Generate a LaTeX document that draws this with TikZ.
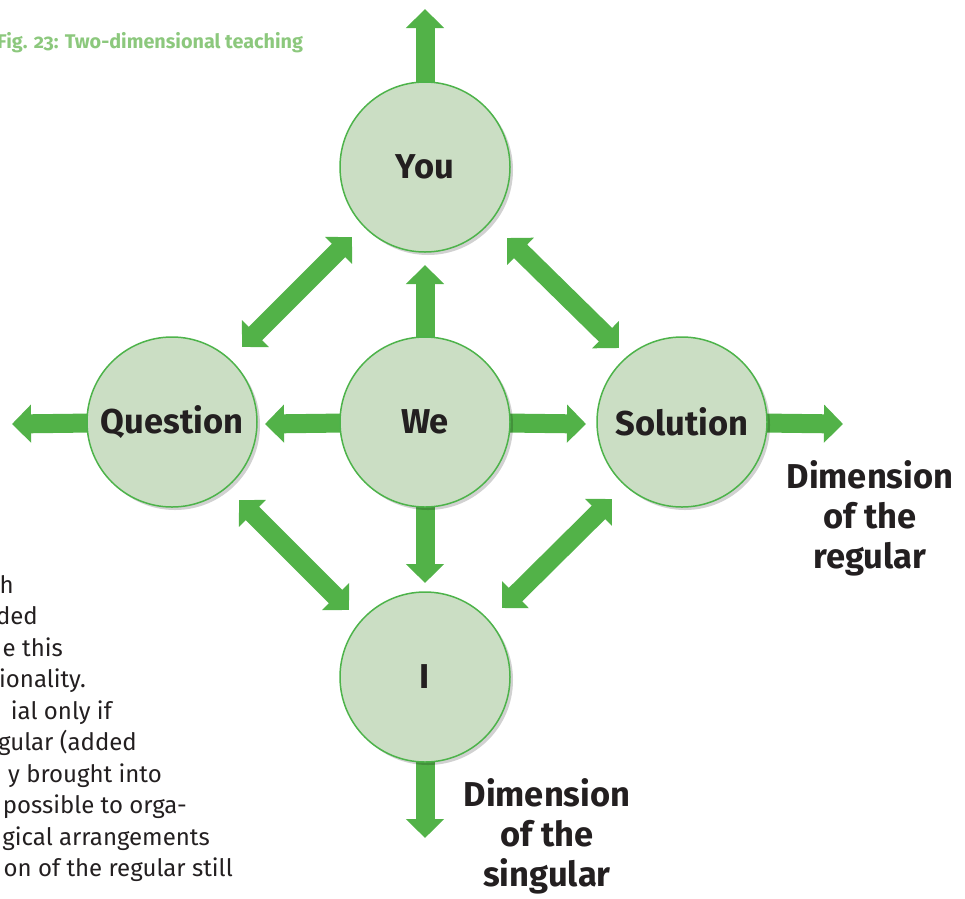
\documentclass[tikz,border=0pt]{standalone}
\usepackage{fontspec}
\setmainfont{Fira Sans}
\usetikzlibrary{arrows.meta,backgrounds,shadows}
\definecolor{cfill}{HTML}{CBDEC4}
\definecolor{cline}{HTML}{4DB34A}
\definecolor{agreen}{HTML}{52B248}
\definecolor{capgreen}{HTML}{8CC87D}
\definecolor{txt}{HTML}{231F20}
\begin{document}
\begin{tikzpicture}[x=1pt,y=-1pt,
  circ/.style={circle, minimum size=170pt, inner sep=0pt, outer sep=0pt,
    fill=cfill, draw=cline, line width=1.5pt, text=txt,
    font=\bfseries\fontsize{34.5}{40}\selectfont,
    drop shadow={shadow xshift=3pt, shadow yshift=-3pt, opacity=0.18, fill=black}},
  arr/.style={draw=agreen, line width=19pt, -{Triangle[width=37pt,length=19pt]}},
  darr/.style={draw=agreen, line width=19pt,
    {Triangle[width=37pt,length=19pt]}-{Triangle[width=37pt,length=19pt]}},
  dimlabel/.style={align=center, anchor=base, inner sep=0pt, text=txt,
    font=\bfseries\fontsize{34.5}{40}\selectfont},
  body/.style={anchor=base east, inner sep=0pt, text=txt,
    font=\fontsize{24}{31}\selectfont},
]
\useasboundingbox (0,0) rectangle (965,898);

% caption
\node[anchor=base west, inner sep=0pt, text=capgreen,
  font=\bfseries\fontsize{19.8}{24}\selectfont\addfontfeatures{Numbers=OldStyle}]
  (cap) at (-3,48) {Fig. 23: Two-dimensional teaching};

% circles
\node[circ] (you) at (425,167) {You};
\node[circ] (we) at (425,422) {We};
\node[circ] (q) at (172,422) {Question};
\node[circ] (sol) at (682,422) {Solution};
\node[circ] (i) at (425,677) {I};

% arrow tips
\coordinate (youT) at (425,9);
\coordinate (weU) at (425,265);
\coordinate (weD) at (425,583);
\coordinate (weL) at (265,424);
\coordinate (weR) at (586,424);
\coordinate (qL) at (12,424);
\coordinate (solR) at (843,424);
\coordinate (iD) at (425,838);
\coordinate (qy1) at (242,347);
\coordinate (qy2) at (352,237);
\coordinate (ys1) at (507,238);
\coordinate (ys2) at (619,348);
\coordinate (qi1) at (239,500);
\coordinate (qi2) at (349,610);
\coordinate (si1) at (612,499);
\coordinate (si2) at (502,608);

\begin{scope}[on background layer]
  \draw[arr] (you.center) -- (youT);
  \draw[arr] (we.center) -- (weU);
  \draw[arr] (we.center) -- (weD);
  \draw[arr] (we.center) -- (weL);
  \draw[arr] (we.center) -- (weR);
  \draw[arr] (q.center) -- (qL);
  \draw[arr] (sol.center) -- (solR);
  \draw[arr] (i.center) -- (iD);
  \draw[darr] (qy1) -- (qy2);
  \draw[darr] (ys1) -- (ys2);
  \draw[darr] (qi1) -- (qi2);
  \draw[darr] (si1) -- (si2);
\end{scope}

% dimension labels (anchor = baseline of last line)
\node[dimlabel] (dreg) at (870,568) {Dimension\\of the\\regular};
\node[dimlabel] (dsing) at (547,886) {Dimension\\of the\\singular};

% body text fragments
\node[body] (b1) at (14,593) {h};
\node[body] (b2) at (38,624.5) {ded};
\node[body] (b3) at (63,656) {e this};
\node[body] (b4) at (86,687.5) {ionality.};
\node[body] (b5) at (112,719) {ial only if};
\node[body] (b6) at (137,750.5) {gular (added};
\node[body] (b7) at (162,782) {y brought into};
\node[body] (b8) at (187,813.5) {possible to orga-};
\node[body] (b9) at (210,845) {gical arrangements};
\node[body] (b10) at (233,876.5) {on of the regular still};
\end{tikzpicture}
\end{document}
